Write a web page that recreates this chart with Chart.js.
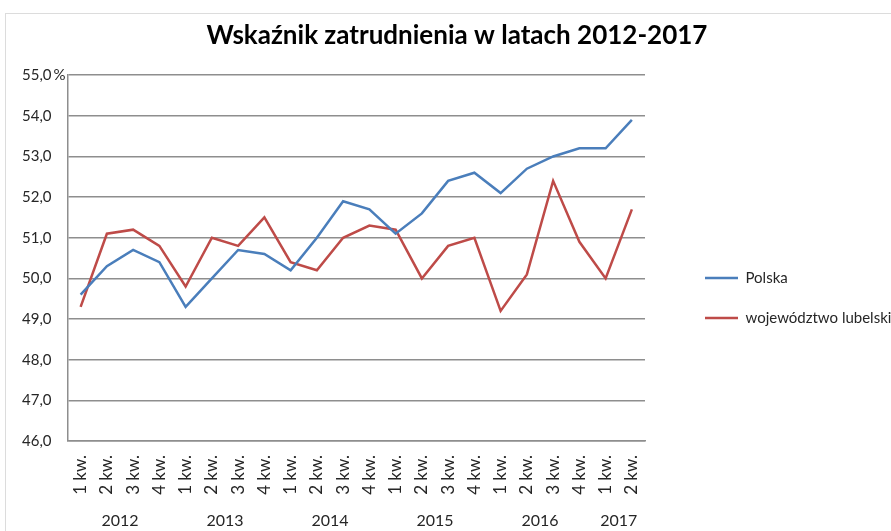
<!DOCTYPE html>
<html lang="pl">
<head>
<meta charset="utf-8">
<script src="https://cdn.jsdelivr.net/npm/chart.js@4/dist/chart.umd.min.js"></script>
<style>
html, body { margin: 0; padding: 0; background: #fff; overflow: hidden; }
.ramka { position: absolute; left: 5px; top: 13px; width: 903px; height: 520px; border: 1px solid #dcdcdc; border-right: none; box-sizing: border-box; background: #fff; }
</style>
</head>
<body>
<div class="ramka"><canvas id="wykres"></canvas></div>
<script>
// DANE
const kwartaly = ['1 kw.', '2 kw.', '3 kw.', '4 kw.', '1 kw.', '2 kw.', '3 kw.', '4 kw.', '1 kw.', '2 kw.', '3 kw.', '4 kw.',
    '1 kw.', '2 kw.', '3 kw.', '4 kw.', '1 kw.', '2 kw.', '3 kw.', '4 kw.', '1 kw.', '2 kw.'];
const lata = ['2012', '2013', '2014', '2015', '2016', '2017'];
const kwartalyWRoku = [4, 4, 4, 4, 4, 2];
const polska = [49.6, 50.3, 50.7, 50.4, 49.3, 50.0, 50.7, 50.6, 50.2, 51.0, 51.9, 51.7,
    51.1, 51.6, 52.4, 52.6, 52.1, 52.7, 53.0, 53.2, 53.2, 53.9];
const lubelskie = [49.3, 51.1, 51.2, 50.8, 49.8, 51.0, 50.8, 51.5, 50.4, 50.2, 51.0, 51.3,
    51.2, 50.0, 50.8, 51.0, 49.2, 50.1, 52.4, 50.9, 50.0, 51.7];

// srodki grup kwartalow dla podpisow lat
const srodkiLat = [];
let start = 0;
for (let i = 0; i < kwartalyWRoku.length; i++) {
    srodkiLat.push(start + (kwartalyWRoku[i] - 1) / 2);
    start += kwartalyWRoku[i];
}

const kolorSiatki = '#8e8e8e';
const czcionka = 'Lato, "Liberation Sans", sans-serif';
Chart.defaults.font.family = czcionka;
Chart.defaults.color = '#262626';

// znak % przy najwyzszej wartosci osi
const procent = {
    id: 'procent',
    afterDraw(chart) {
        const y = chart.scales.y;
        const ctx = chart.ctx;
        ctx.save();
        ctx.font = '15px ' + czcionka;
        ctx.fillStyle = '#262626';
        ctx.textBaseline = 'middle';
        ctx.textAlign = 'left';
        ctx.fillText('%', y.right - 14, y.getPixelForValue(55));
        ctx.restore();
    }
};

const wykres = document.getElementById('wykres');
new Chart(wykres, {
    type: 'line',
    data: {
        labels: kwartaly,
        datasets: [{
            label: 'Polska',
            data: polska,
            borderColor: '#4a7ebb',
            backgroundColor: '#4a7ebb',
            borderWidth: 2.5,
            pointRadius: 0,
            tension: 0
        }, {
            label: 'województwo lubelskie',
            data: lubelskie,
            borderColor: '#be4b48',
            backgroundColor: '#be4b48',
            borderWidth: 2.5,
            pointRadius: 0,
            tension: 0
        }]
    },
    options: {
        responsive: true,
        maintainAspectRatio: false,
        animation: false,
        layout: {
            padding: { left: 0, right: 0, top: 0, bottom: 2 }
        },
        plugins: {
            title: {
                display: true,
                text: 'Wskaźnik zatrudnienia w latach 2012-2017',
                color: '#000',
                font: { size: 26, weight: 'bold' },
                padding: { top: 6, bottom: 24 }
            },
            legend: {
                position: 'right',
                maxWidth: 228,
                title: {
                    display: true,
                    text: '',
                    font: { size: 15 },
                    padding: { top: 0, bottom: 34 }
                },
                labels: {
                    usePointStyle: true,
                    pointStyle: 'line',
                    pointStyleWidth: 33,
                    boxHeight: 15,
                    padding: 25,
                    color: '#262626',
                    font: { size: 15 }
                }
            },
            tooltip: { enabled: false }
        },
        scales: {
            y: {
                min: 46,
                max: 55,
                ticks: {
                    stepSize: 1,
                    padding: 16,
                    font: { size: 15 },
                    callback: (v) => v.toFixed(1).replace('.', ',')
                },
                grid: { color: kolorSiatki, lineWidth: 1.5, drawTicks: false },
                border: { color: kolorSiatki, width: 1.5 }
            },
            x: {
                weight: 0,
                offset: true,
                afterFit: (skala) => { skala.height = 65; },
                grid: { display: false, drawTicks: false },
                border: { color: kolorSiatki, width: 1.5 },
                ticks: {
                    minRotation: 90,
                    maxRotation: 90,
                    autoSkip: false,
                    padding: 14,
                    font: { size: 17 }
                }
            },
            lata: {
                type: 'linear',
                position: 'bottom',
                weight: 1,
                min: -0.5,
                max: kwartaly.length - 0.5,
                afterBuildTicks: (skala) => {
                    skala.ticks = srodkiLat.map(v => ({ value: v }));
                },
                afterFit: (skala) => { skala.height = 24; },
                grid: { display: false, drawTicks: false },
                border: { display: false },
                ticks: {
                    autoSkip: false,
                    maxRotation: 0,
                    padding: 5,
                    font: { size: 16 },
                    callback: (v, i) => lata[i]
                }
            },
            odstep: {
                type: 'linear',
                position: 'right',
                display: true,
                afterFit: (skala) => { skala.width = 35; },
                grid: { display: false },
                border: { display: false },
                ticks: { display: false }
            }
        }
    },
    plugins: [procent]
});
</script>
</body>
</html>
